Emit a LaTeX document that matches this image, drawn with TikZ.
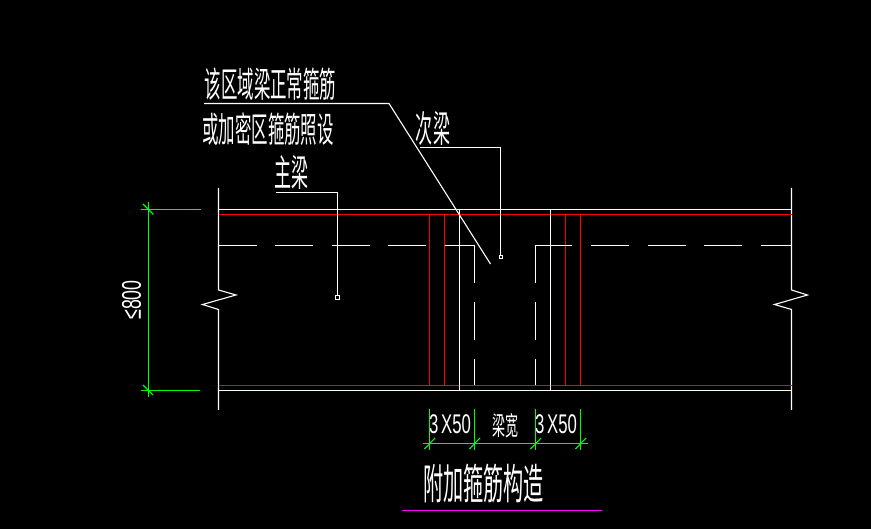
\documentclass[tikz,border=0pt]{standalone}
\usepackage{fontspec}
\setmainfont{Liberation Sans}
\newfontfamily\cjk{Noto Sans CJK SC}
\definecolor{cadgreen}{RGB}{0,255,0}
\definecolor{cadred}{RGB}{255,0,0}
\definecolor{cadmag}{RGB}{255,0,255}
\tikzset{
  wline/.style={draw=white,line width=1.1pt},
  rline/.style={draw=cadred,line width=1.1pt},
  gline/.style={draw=cadgreen,line width=1.1pt},
  dashline/.style={draw=white,line width=1.1pt,dash pattern=on 38pt off 18.6pt},
  lbl/.style={text=white,inner sep=0pt,outer sep=0pt,anchor=center},
  pin/.style={draw=white,fill=black,line width=.9pt,minimum size=3.5pt,inner sep=0pt,rectangle}
}
\newcommand{\cjktext}[3]{\scalebox{#2}[1]{\cjk\fontsize{#1}{#1}\selectfont #3}}
\begin{document}
\begin{tikzpicture}[x=1pt,y=-1pt]
\useasboundingbox (0,0) rectangle (871,529);
\fill[black] (0,0) rectangle (871,529);
% beam outline
\draw[wline] (218.5,188) -- (218.5,290) -- (236,295) -- (202.5,304.5) -- (218.5,309.5) -- (218.5,410);
\draw[wline] (791.5,188) -- (791.5,290) -- (807.5,295) -- (774.5,304.5) -- (791.5,309.5) -- (791.5,410);
\draw[wline] (218.5,209.5) -- (791.5,209.5);
\draw[wline] (218.5,390.5) -- (791.5,390.5);
\draw[rline] (218.5,214.5) -- (791.5,214.5);
\draw[rline] (218.5,385.5) -- (791.5,385.5);
% stirrups
\foreach \x in {429.5,444.5,565.5,580.5} \draw[rline] (\x,214.5) -- (\x,385.5);
\foreach \x in {459.5,550.5} \draw[wline] (\x,209.5) -- (\x,390.5);
% dashed secondary beam
\draw[dashline] (218.5,245.5) -- (444,245.5);
\draw[wline] (444.5,245.5) -- (474.5,245.5) -- (474.5,283);
\draw[wline] (474.5,302) -- (474.5,340);
\draw[wline] (474.5,359) -- (474.5,385.5);
\draw[wline] (572,245.5) -- (535.5,245.5) -- (535.5,283);
\draw[wline] (535.5,302) -- (535.5,340);
\draw[wline] (535.5,359) -- (535.5,385.5);
\draw[dashline] (591,245.5) -- (791.5,245.5);
% leaders
\coordinate (la) at (204,103.5);
\coordinate (lb) at (389,103.5);
\coordinate (lc) at (490.5,264);
\draw[wline] (la) -- (lb) -- (lc);
\node[pin] (pinb) at (501,257) {};
\coordinate (ca) at (420,147.5);
\coordinate (cb) at (500.5,147.5);
\draw[wline] (ca) -- (cb) -- (pinb.north -| cb);
\node[pin] (pinm) at (337.5,297.5) {};
\coordinate (ma) at (276,192.5);
\coordinate (mb) at (337.5,192.5);
\draw[wline] (ma) -- (mb) -- (pinm.north);
% labels
\node[lbl] (t1) at (270.5,84) {\cjktext{35}{.47}{该区域梁正常箍筋}};
\node[lbl] (t2) at (268,129) {\cjktext{35}{.47}{或加密区箍筋照设}};
\node[lbl] (t3) at (291.5,172) {\cjktext{37}{.46}{主梁}};
\node[lbl] (t4) at (433,129) {\cjktext{37}{.46}{次梁}};
\node[lbl] (t5) at (505,426) {\cjktext{26}{.5}{梁宽}};
\node[lbl] (t6) at (483.5,484) {\cjktext{42}{.48}{附加箍筋构造}};
\node[lbl] (t7) at (450,424.5) {\scalebox{.62}[1]{\fontsize{27}{27}\selectfont 3\,X50}};
\node[lbl] (t8) at (556,424.5) {\scalebox{.62}[1]{\fontsize{27}{27}\selectfont 3\,X50}};
\node[lbl,rotate=90] (t9) at (131.5,300) {\scalebox{.66}[1]{\fontsize{27}{27}\selectfont ≤800}};
% dimensions
\draw[gline] (148.5,202) -- (148.5,397);
\draw[gline] (141,209.5) -- (201,209.5);
\draw[gline] (141,390.5) -- (200,390.5);
\draw[gline] (143,204) -- (153.5,214.5);
\draw[gline] (143,385) -- (153,395);
\draw[gline] (423,443.5) -- (588,443.5);
\foreach \x in {429.5,474.5,535.5,580.5} {
  \draw[gline] (\x,409) -- (\x,450);
  \draw[gline] (\x-5,449) -- (\x+5.5,438);
}
\draw[draw=cadmag,line width=1.1pt] (402,510.5) -- (602,510.5);
\end{tikzpicture}
\end{document}
